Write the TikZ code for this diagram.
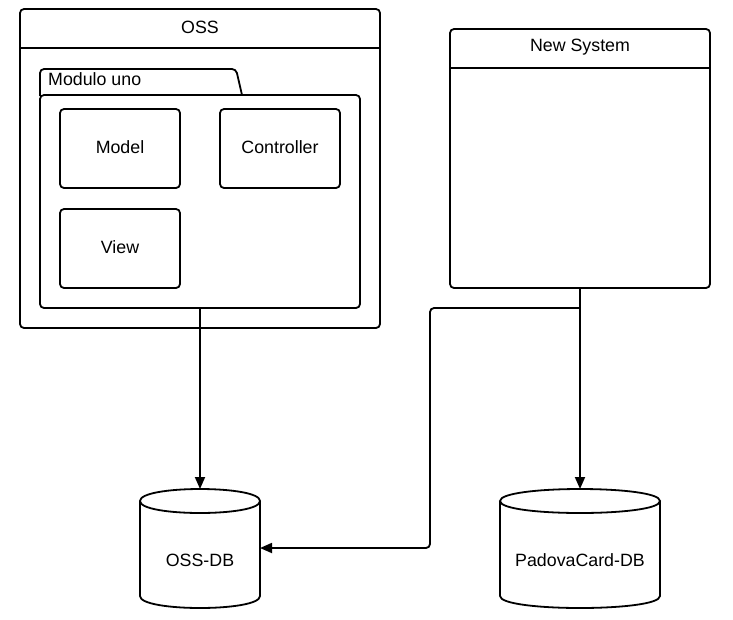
\documentclass[tikz,border=0pt]{standalone}
\usepackage{fontspec}
\setmainfont{Liberation Sans}
\usetikzlibrary{arrows.meta}
\begin{document}
\begin{tikzpicture}[x=1pt,y=-1pt,
  every node/.style={font=\fontsize{17.8}{21}\selectfont},
  ln/.style={line width=1.8pt},
  box/.style={ln,draw,rounded corners=4pt,inner sep=0pt},
  lbl/.style={inner sep=0pt,anchor=center},
  arr/.style={ln,-{Triangle[length=12pt,width=10pt]}}]
\useasboundingbox (0,0) rectangle (733,619);
% OSS outer
\draw[box] (20,9) rectangle (380,328);
\draw[ln] (20,48) -- (380,48);
\node[lbl] (osst) at (200,27) {OSS};
% folder
\draw[ln,rounded corners=4pt] (40,96) -- (40,69) -- (236,69) -- (242,95);
\draw[box] (40,95) rectangle (360,308);
\node[lbl,anchor=west] (modt) at (48,79) {Modulo uno};
\coordinate (modbot) at (200,308);
% inner boxes
\draw[box] (60,109) rectangle (180,188);
\node[lbl] (model) at (120,147) {Model};
\draw[box] (220,109) rectangle (340,188);
\node[lbl] (ctrl) at (280,147) {Controller};
\draw[box] (60,209) rectangle (180,288);
\node[lbl] (view) at (120,247) {View};
% New System
\draw[box] (450,29) rectangle (710,288);
\draw[ln] (450,68) -- (710,68);
\node[lbl] (newt) at (580,47) {New System};
\coordinate (newbot) at (580,288);
\coordinate (split) at (580,308);
\coordinate (corner1) at (430,308);
\coordinate (corner2) at (430,548);
% cylinders
\foreach \cx/\hw in {200/60,580/80}{
  \draw[ln] (\cx-\hw,501) .. controls (\cx-\hw,485) and (\cx+\hw,485) .. (\cx+\hw,501)
     .. controls (\cx+\hw,517) and (\cx-\hw,517) .. (\cx-\hw,501) -- cycle;
  \draw[ln] (\cx-\hw,501) -- (\cx-\hw,596) .. controls (\cx-\hw,612) and (\cx+\hw,612) .. (\cx+\hw,596) -- (\cx+\hw,501);
}
\node[lbl] (ossdb) at (200,560) {OSS-DB};
\node[lbl] (padb) at (580,560) {PadovaCard-DB};
\coordinate (ossdbtop) at (200,489);
\coordinate (ossdbright) at (260,548);
\coordinate (padbtop) at (580,489);
% connectors
\draw[arr] (modbot) -- (ossdbtop);
\draw[arr] (newbot) -- (padbtop);
\draw[arr,rounded corners=4pt] (split) -- (corner1) -- (corner2) -- (ossdbright);
\end{tikzpicture}
\end{document}
